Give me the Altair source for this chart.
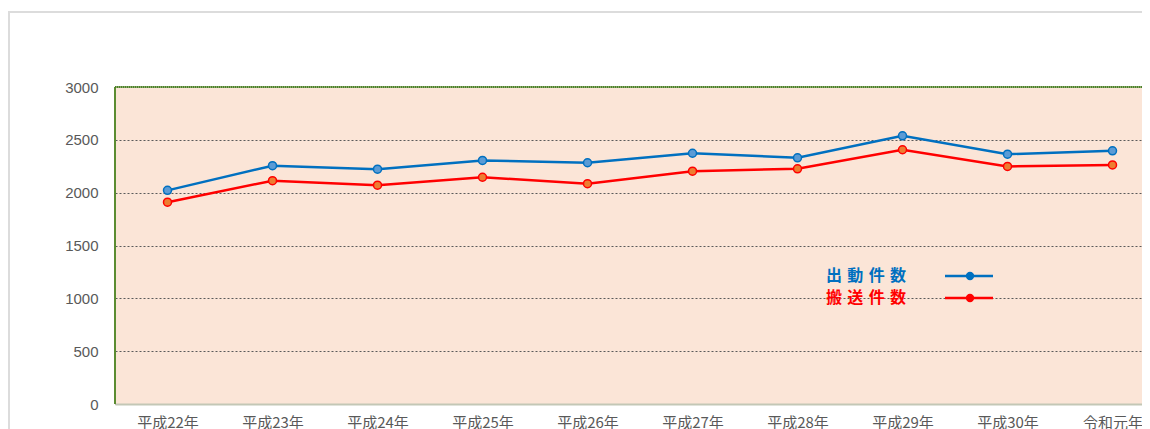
import altair as alt
import pandas as pd

years = ["平成22年", "平成23年", "平成24年", "平成25年", "平成26年",
         "平成27年", "平成28年", "平成29年", "平成30年", "令和元年"]
dispatch = [2022, 2255, 2222, 2305, 2283, 2373, 2330, 2538, 2364, 2396]
transport = [1910, 2113, 2071, 2146, 2085, 2203, 2226, 2406, 2248, 2262]
series_names = ["出動件数", "搬送件数"]
line_colors = ["#0070C0", "#FF0000"]
point_fills = ["#5B9BD5", "#ED7D31"]
y_ticks = [0, 500, 1000, 1500, 2000, 2500, 3000]

rows = []
for y, a, b in zip(years, dispatch, transport):
    rows.append({"year": y, "series": series_names[0], "value": a})
    rows.append({"year": y, "series": series_names[1], "value": b})
df = pd.DataFrame(rows)

W, H = 1027, 317
FULL_W = 1050
FONT = "Noto Sans CJK JP"

x_enc = alt.X("year:N", sort=years, title=None,
              scale=alt.Scale(type="point", padding=0.5, range=[0, FULL_W]),
              axis=alt.Axis(labelAngle=0, labelFontSize=15, labelColor="#595959",
                            labelFont=FONT, labelPadding=11, ticks=False,
                            domainColor="#C3C7B6", domainWidth=2, grid=False))
y_enc = alt.Y("value:Q", title=None,
              scale=alt.Scale(domain=[0, 3000], nice=False),
              axis=alt.Axis(values=y_ticks, format="d", labelFontSize=15,
                            labelColor="#595959", labelFont="Liberation Sans",
                            labelPadding=17, ticks=False,
                            domain=False, grid=True, gridColor="#5A5A5A",
                            gridDash=[2, 2], gridWidth=1))
color_scale = alt.Scale(domain=series_names, range=line_colors)
fill_scale = alt.Scale(domain=series_names, range=point_fills)

lines = alt.Chart(df).mark_line(strokeWidth=2.5).encode(
    x=x_enc, y=y_enc,
    color=alt.Color("series:N", scale=color_scale, legend=None),
)
points = alt.Chart(df).mark_point(filled=False, size=64, strokeWidth=1.5, opacity=1).encode(
    x=alt.X("year:N", sort=years),
    y="value:Q",
    stroke=alt.Stroke("series:N", scale=color_scale, legend=None),
    fill=alt.Fill("series:N", scale=fill_scale, legend=None),
)

# plot borders (left green line, top green line)
left_border = alt.Chart(df).mark_rule(color="#5B8C32", strokeWidth=2).encode(
    x=alt.value(0), y=alt.value(0), y2=alt.value(H))
top_border = alt.Chart(df).mark_rule(color="#86AD66", strokeWidth=2).encode(
    x=alt.value(0), x2=alt.value(W + 40), y=alt.value(0))
top_border2 = alt.Chart(df).mark_rule(color="#4E7D2C", strokeWidth=1, strokeDash=[1, 1]).encode(
    x=alt.value(0), x2=alt.value(W + 40), y=alt.value(0))

# outer chart frame
frame = alt.Chart(df).mark_rect(fill=None, stroke="#DCDCDC", strokeWidth=2).encode(
    x=alt.value(-106), x2=alt.value(W + 60), y=alt.value(-75), y2=alt.value(H + 80))

# custom legend
SP = "\u2004"
leg_df = pd.DataFrame({"series": series_names,
                       "label": [SP.join(s) for s in series_names],
                       "yy": [189, 211]})
leg_text = alt.Chart(leg_df).mark_text(align="left", baseline="middle", fontSize=16,
                                       fontWeight="bold", font=FONT).encode(
    x=alt.value(711),
    y=alt.Y("yy:Q", scale=None),
    text="label:N",
    color=alt.Color("series:N", scale=color_scale, legend=None),
)
leg_line = alt.Chart(leg_df).mark_rule(strokeWidth=2.5).encode(
    x=alt.value(830), x2=alt.value(878),
    y=alt.Y("yy:Q", scale=None),
    color=alt.Color("series:N", scale=color_scale, legend=None),
)
leg_pt = alt.Chart(leg_df).mark_point(filled=True, size=70, opacity=1).encode(
    x=alt.value(855),
    y=alt.Y("yy:Q", scale=None),
    color=alt.Color("series:N", scale=color_scale, legend=None),
)

chart = alt.layer(frame, lines, points, left_border, top_border, top_border2,
                  leg_line, leg_pt, leg_text).properties(
    width=W, height=H,
    autosize=alt.AutoSizeParams(type="none"),
    padding={"left": 107, "top": 79, "right": 0, "bottom": 30},
).configure_view(fill="#FBE5D7", stroke=None)

chart.save("out.html", embed_options={"renderer": "svg", "actions": False})
